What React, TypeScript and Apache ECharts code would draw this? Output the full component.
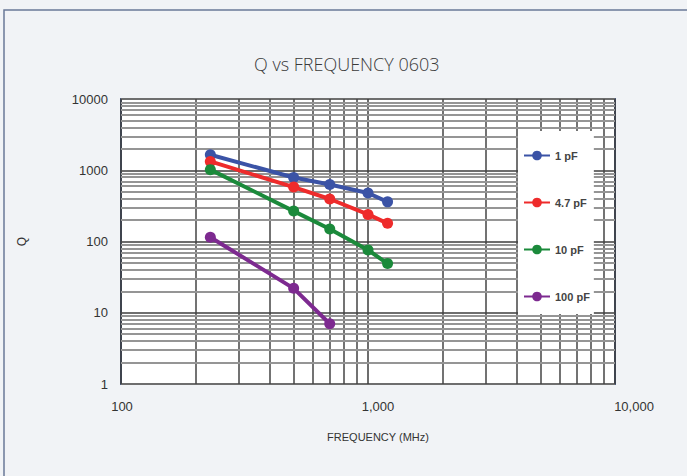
import React, { useEffect, useRef } from "react";
import * as echarts from "echarts";

const frequencies = [230, 500, 700, 1000, 1200];
const q1pF = [1650, 790, 630, 480, 360];
const q4p7pF = [1330, 580, 395, 240, 180];
const q10pF = [1020, 267, 150, 76, 49];
const q100pF = [115, 22, 7];

const seriesNames = ["1 pF", "4.7 pF", "10 pF", "100 pF"];
const seriesColors = ["#3b53a6", "#ee2b2b", "#1b8a3b", "#7d2a90"];

const xMajorTicks = [100, 1000, 10000];
const yMajorTicks = [1, 10, 100, 1000, 10000];
const minorSteps = [2, 3, 4, 5, 6, 7, 8, 9];

const xMinor: number[] = [];
[100, 1000].forEach((d) => minorSteps.forEach((m) => xMinor.push(d * m)));
const yMinor: number[] = [];
[1, 10, 100, 1000].forEach((d) => minorSteps.forEach((m) => yMinor.push(d * m)));

const FONT = "'Liberation Sans', Arial, sans-serif";

export default function App() {
  const ref = useRef<HTMLDivElement>(null);

  useEffect(() => {
    if (!ref.current) return;
    const chart = echarts.init(ref.current, undefined, { renderer: "svg" });

    const pair = (ys: number[]) => ys.map((y, i) => [frequencies[i], y]);
    const allData = [q1pF, q4p7pF, q10pF, q100pF];

    const dataSeries = seriesNames.map((name, i) => ({
      name,
      type: "line",
      xAxisIndex: 0,
      yAxisIndex: 0,
      data: pair(allData[i]),
      symbol: "circle",
      symbolSize: 11,
      lineStyle: { width: 4, color: seriesColors[i] },
      itemStyle: { color: seriesColors[i] },
      z: 5,
    }));

    chart.setOption({
      animation: false,
      backgroundColor: "#f1f3f6",
      textStyle: { fontFamily: FONT },
      title: {
        text: "Q vs FREQUENCY 0603",
        left: 249,
        top: 50,
        textStyle: { fontSize: 18, fontWeight: 300, color: "#3a3a3a", fontFamily: "'Open Sans', sans-serif" },
      },
      graphic: [
        {
          type: "rect",
          shape: { x: 4, y: 10, width: 700, height: 500 },
          style: { fill: "none", stroke: "#6a7a98", lineWidth: 1.5 },
          z: -1,
          silent: true,
        },
      ],
      legend: {
        data: seriesNames,
        orient: "vertical",
        left: 518,
        top: 131,
        backgroundColor: "#ffffff",
        padding: [19, 4, 12, 5],
        itemGap: 36,
        itemWidth: 26,
        itemHeight: 12,
        textStyle: { fontSize: 11, fontWeight: "bold", color: "#444", fontFamily: FONT },
        z: 10,
      },
      grid: [
        {
          left: 121,
          top: 99,
          width: 494,
          height: 285,
          show: true,
          backgroundColor: "#ffffff",
          borderColor: "#4a5b82",
          borderWidth: 2,
        },
        { left: 122, top: 99, width: 512, height: 285 },
      ],
      xAxis: [
        {
          type: "log",
          gridIndex: 0,
          logBase: 10,
          min: xMajorTicks[0],
          max: xMajorTicks[xMajorTicks.length - 1],
          axisLabel: { show: false },
          axisTick: { show: false },
          axisLine: { show: false },
          splitLine: { show: true, lineStyle: { color: "#3d3d3d", width: 1.5 } },
        },
        {
          type: "log",
          gridIndex: 1,
          logBase: 10,
          min: xMajorTicks[0],
          max: xMajorTicks[xMajorTicks.length - 1],
          axisLabel: {
            show: true,
            fontSize: 13,
            color: "#333",
            margin: 16,
            formatter: (v: number) => v.toLocaleString("en-US"),
          },
          axisTick: { show: false },
          axisLine: { show: false },
          splitLine: { show: false },
          name: "FREQUENCY (MHz)",
          nameLocation: "middle",
          nameGap: 47,
          nameTextStyle: { fontSize: 11, color: "#333" },
        },
      ],
      yAxis: [
        {
          type: "log",
          gridIndex: 0,
          logBase: 10,
          min: yMajorTicks[0],
          max: yMajorTicks[yMajorTicks.length - 1],
          axisLabel: {
            fontSize: 13,
            color: "#333",
            margin: 13,
            formatter: (v: number) => String(v),
          },
          axisTick: { show: false },
          axisLine: { show: false },
          splitLine: { show: true, lineStyle: { color: "#6e6e6e", width: 2 } },
          name: "Q",
          nameLocation: "middle",
          nameGap: 93,
          nameTextStyle: { fontSize: 12, color: "#333" },
        },
        {
          type: "log",
          gridIndex: 1,
          min: 1,
          max: 10000,
          show: false,
        },
      ],
      series: [
        {
          type: "line",
          name: "vminor",
          xAxisIndex: 0,
          yAxisIndex: 0,
          data: [],
          silent: true,
          z: 1,
          markLine: {
            silent: true,
            symbol: ["none", "none"],
            label: { show: false },
            z: 1,
            lineStyle: { color: "#444444", width: 1.5, type: "solid" },
            emphasis: { disabled: true },
            data: xMinor.map((v) => ({ xAxis: v })),
          },
        },
        {
          type: "line",
          name: "hminor",
          xAxisIndex: 0,
          yAxisIndex: 0,
          data: [],
          silent: true,
          z: 1,
          markLine: {
            silent: true,
            symbol: ["none", "none"],
            label: { show: false },
            z: 1,
            lineStyle: { color: "#959595", width: 2, type: "solid" },
            emphasis: { disabled: true },
            data: yMinor.map((v) => ({ yAxis: v })),
          },
        },
        ...dataSeries,
      ],
    });

    return () => chart.dispose();
  }, []);

  return (
    <div
      ref={ref}
      style={{ position: "absolute", left: 0, top: 0, width: 687, height: 476 }}
    />
  );
}
